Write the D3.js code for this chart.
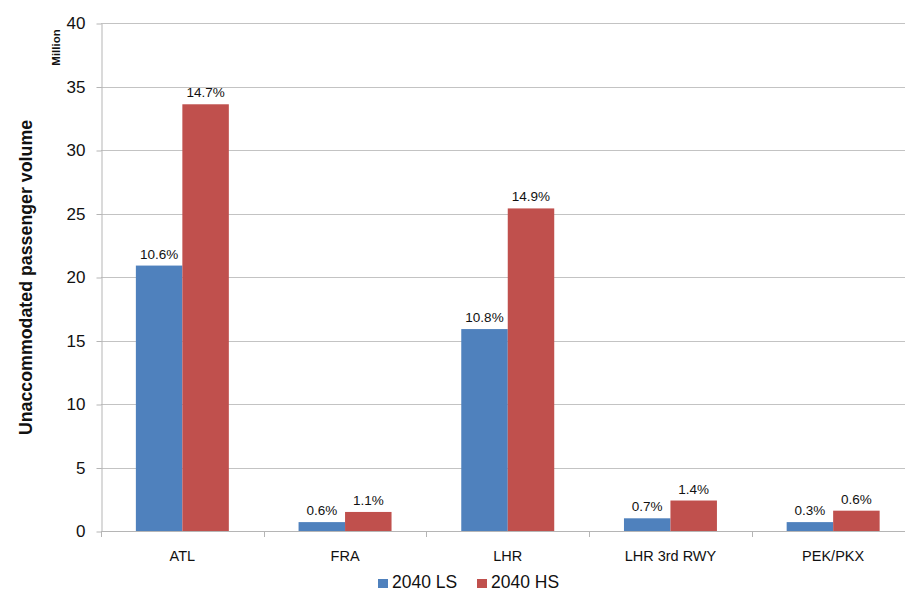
<!DOCTYPE html>
<html>
<head>
<meta charset="utf-8">
<script src="https://cdn.jsdelivr.net/npm/d3@7/dist/d3.min.js"></script>
<style>
  html, body { margin: 0; padding: 0; background: #fff; }
  svg { display: block; font-family: "Liberation Sans", Arial, sans-serif; }
</style>
</head>
<body>
<svg id="chart" width="905" height="592"></svg>
<script>
// Airports / scenarios
const categories = ["ATL", "FRA", "LHR", "LHR 3rd RWY", "PEK/PKX"];
const seriesNames = ["2040 LS", "2040 HS"];
const seriesColors = ["#4F81BD", "#C0504D"];

// Unaccommodated passengers, millions
const valuesLS = [20.9, 0.7, 15.9, 1.0, 0.7];
const valuesHS = [33.6, 1.5, 25.4, 2.4, 1.6];

// Share of demand unaccommodated
const labelsLS = ["10.6%", "0.6%", "10.8%", "0.7%", "0.3%"];
const labelsHS = ["14.7%", "1.1%", "14.9%", "1.4%", "0.6%"];

const yTicks = [0, 5, 10, 15, 20, 25, 30, 35, 40];

(function drawChart() {
  const svg = d3.select("#chart");

  const plotLeft = 101, plotBottom = 531, plotTop = 23;
  const step = 162.7;

  const x = d3.scaleBand()
    .domain(categories)
    .range([plotLeft, plotLeft + step * categories.length])
    .paddingInner(1.5 / 3.5)
    .paddingOuter(0.75 / 3.5);

  const xs = d3.scaleBand()
    .domain(seriesNames)
    .range([0, x.bandwidth()]);

  const y = d3.scaleLinear().domain([0, 40]).range([plotBottom, plotTop]);

  // Gridlines
  svg.append("g")
    .selectAll("line")
    .data(yTicks.filter(d => d > 0))
    .join("line")
    .attr("x1", plotLeft)
    .attr("x2", 905)
    .attr("y1", d => Math.round(y(d)) + 0.5)
    .attr("y2", d => Math.round(y(d)) + 0.5)
    .attr("stroke", "#c3c3c3")
    .attr("stroke-width", 1);

  // Y axis
  const yAxis = svg.append("g")
    .attr("transform", `translate(${plotLeft + 0.5},0.5)`)
    .call(d3.axisLeft(y).tickValues(yTicks).tickSize(5).tickSizeOuter(0).tickPadding(11));
  yAxis.select(".domain").attr("stroke", "#b5b5b5");
  yAxis.selectAll(".tick line").attr("stroke", "#b5b5b5");
  yAxis.selectAll(".tick text")
    .attr("font-size", "17px")
    .attr("fill", "#111")
    .attr("font-family", "Liberation Sans, Arial, sans-serif");

  // Bars
  const rows = categories.map((c, i) => ({
    cat: c,
    items: [
      { s: seriesNames[0], v: valuesLS[i], label: labelsLS[i], color: seriesColors[0] },
      { s: seriesNames[1], v: valuesHS[i], label: labelsHS[i], color: seriesColors[1] }
    ]
  }));

  const groups = svg.append("g")
    .selectAll("g")
    .data(rows)
    .join("g")
    .attr("transform", d => `translate(${x(d.cat)},0)`);

  groups.selectAll("rect")
    .data(d => d.items)
    .join("rect")
    .attr("x", d => xs(d.s))
    .attr("y", d => y(d.v))
    .attr("width", xs.bandwidth())
    .attr("height", d => y(0) - y(d.v))
    .attr("fill", d => d.color);

  groups.selectAll("text")
    .data(d => d.items)
    .join("text")
    .attr("x", d => xs(d.s) + xs.bandwidth() / 2)
    .attr("y", d => y(d.v) - 7)
    .attr("text-anchor", "middle")
    .attr("font-size", "13.5px")
    .attr("fill", "#111")
    .text(d => d.label);

  // X axis baseline and category separators
  const xAxis = svg.append("g");
  xAxis.append("line")
    .attr("x1", plotLeft)
    .attr("x2", 905)
    .attr("y1", plotBottom + 0.5)
    .attr("y2", plotBottom + 0.5)
    .attr("stroke", "#b5b5b5");
  xAxis.selectAll("line.sep")
    .data(d3.range(categories.length + 1))
    .join("line")
    .attr("class", "sep")
    .attr("x1", i => Math.round(x.range()[0] + i * x.step()) + 0.5)
    .attr("x2", i => Math.round(x.range()[0] + i * x.step()) + 0.5)
    .attr("y1", plotBottom)
    .attr("y2", plotBottom + 6)
    .attr("stroke", "#b5b5b5");
  xAxis.selectAll("text")
    .data(categories)
    .join("text")
    .attr("x", d => x(d) + x.bandwidth() / 2)
    .attr("y", 561)
    .attr("text-anchor", "middle")
    .attr("font-size", "14.5px")
    .attr("fill", "#111")
    .text(d => d);

  // Axis titles
  svg.append("text")
    .attr("transform", "translate(32,277.5) rotate(-90)")
    .attr("text-anchor", "middle")
    .attr("font-size", "17.8px")
    .attr("font-weight", "bold")
    .attr("fill", "#111")
    .text("Unaccommodated passenger volume");

  svg.append("text")
    .attr("transform", "translate(60,47.5) rotate(-90)")
    .attr("text-anchor", "middle")
    .attr("font-size", "11.5px")
    .attr("font-weight", "bold")
    .attr("fill", "#111")
    .text("Million");

  // Legend
  const legendX = [378, 477];
  const legend = svg.append("g")
    .selectAll("g")
    .data(seriesNames)
    .join("g")
    .attr("transform", (d, i) => `translate(${legendX[i]},0)`);
  legend.append("rect")
    .attr("x", 0)
    .attr("y", 579)
    .attr("width", 10)
    .attr("height", 9)
    .attr("fill", (d, i) => seriesColors[i]);
  legend.append("text")
    .attr("x", 14)
    .attr("y", 588)
    .attr("font-size", "17.5px")
    .attr("fill", "#111")
    .text(d => d);
})();
</script>
</body>
</html>
